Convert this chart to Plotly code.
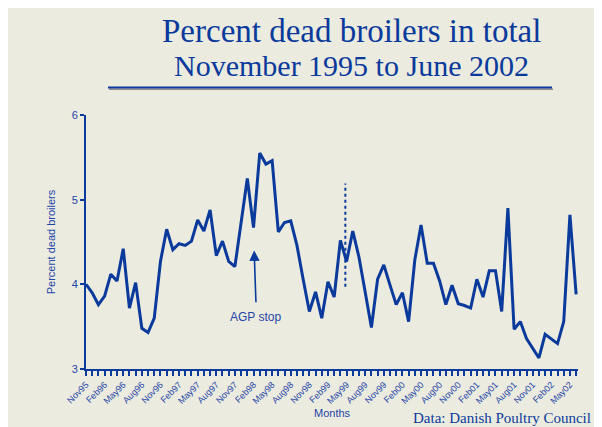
import plotly.graph_objects as go

months = ["Nov95","Dec95","Jan96","Feb96","Mar96","Apr96","May96","Jun96","Jul96","Aug96","Sep96","Oct96",
          "Nov96","Dec96","Jan97","Feb97","Mar97","Apr97","May97","Jun97","Jul97","Aug97","Sep97","Oct97",
          "Nov97","Dec97","Jan98","Feb98","Mar98","Apr98","May98","Jun98","Jul98","Aug98","Sep98","Oct98",
          "Nov98","Dec98","Jan99","Feb99","Mar99","Apr99","May99","Jun99","Jul99","Aug99","Sep99","Oct99",
          "Nov99","Dec99","Jan00","Feb00","Mar00","Apr00","May00","Jun00","Jul00","Aug00","Sep00","Oct00",
          "Nov00","Dec00","Jan01","Feb01","Mar01","Apr01","May01","Jun01","Jul01","Aug01","Sep01","Oct01",
          "Nov01","Dec01","Jan02","Feb02","Mar02","Apr02","May02","Jun02"]

pct_dead = [4.00, 3.90, 3.76, 3.86, 4.12, 4.04, 4.42, 3.72, 4.02, 3.48, 3.43, 3.60,
            4.27, 4.65, 4.41, 4.48, 4.46, 4.51, 4.76, 4.63, 4.88, 4.34, 4.51, 4.27,
            4.21, 4.74, 5.25, 4.67, 5.55, 5.42, 5.46, 4.62, 4.73, 4.75, 4.46, 4.06,
            3.68, 3.91, 3.60, 4.03, 3.85, 4.52, 4.27, 4.63, 4.32, 3.91, 3.49, 4.06,
            4.23, 3.99, 3.76, 3.90, 3.56, 4.29, 4.70, 4.25, 4.25, 4.04, 3.76, 3.99,
            3.77, 3.75, 3.72, 4.06, 3.85, 4.16, 4.16, 3.68, 4.90, 3.47, 3.56, 3.36,
            3.25, 3.13, 3.41, 3.35, 3.30, 3.56, 4.82, 3.88]

y_ticks = [3, 4, 5, 6]
label_every = 3

BLUE = "#0a3a9c"
TXT = "#1f45a8"
BG = "#ebebdf"

x_idx = list(range(len(months)))
tick_idx = x_idx[::label_every]
tick_txt = months[::label_every]

fig = go.Figure()
fig.add_trace(go.Scatter(x=x_idx, y=pct_dead, mode="lines",
                         line=dict(color=BLUE, width=3), hoverinfo="skip",
                         showlegend=False))

OFF = 8  # page body margin
W, H = 594, 419
L, R, T, B = 78, 24, 107, 58
pw, ph = W - L - R, H - T - B

def px_x(p):  # page pixel -> paper coord
    return (p - OFF - L) / pw

def px_y(p):
    return (H - B - (p - OFF)) / ph

shapes = [
    dict(type="line", xref="paper", yref="paper",
         x0=px_x(109), x1=px_x(553), y0=px_y(89.3), y1=px_y(89.3),
         line=dict(color="#8a8a8a", width=1.5)),
    dict(type="line", xref="paper", yref="paper",
         x0=px_x(108), x1=px_x(552), y0=px_y(87.5), y1=px_y(87.5),
         line=dict(color=BLUE, width=2)),
    dict(type="line", xref="x", yref="y", x0=41.8, x1=41.8, y0=3.97, y1=5.19,
         line=dict(color=BLUE, width=2, dash="dot")),
]

annotations = [
    dict(xref="paper", yref="paper", x=px_x(351), y=px_y(31), text="Percent dead broilers in total",
         showarrow=False, font=dict(family="Liberation Serif", size=33, color=BLUE),
         xanchor="center", yanchor="middle"),
    dict(xref="paper", yref="paper", x=px_x(351), y=px_y(66), text="November 1995 to June 2002",
         showarrow=False, font=dict(family="Liberation Serif", size=30, color=BLUE),
         xanchor="center", yanchor="middle"),
    dict(xref="x", yref="y", x=27.1, y=4.40, ax=27.4, ay=3.77, axref="x", ayref="y",
         text="", showarrow=True, arrowhead=2, arrowsize=1.3, arrowwidth=1.6, arrowcolor=BLUE),
    dict(xref="x", yref="y", x=27.3, y=3.62, text="AGP stop", showarrow=False,
         font=dict(family="Liberation Sans", size=12, color=TXT)),
    dict(xref="paper", yref="paper", x=px_x(332), y=px_y(413), text="Months", showarrow=False,
         font=dict(family="Liberation Sans", size=11, color=TXT), xanchor="center", yanchor="middle"),
    dict(xref="paper", yref="paper", x=px_x(593), y=px_y(418), text="Data: Danish Poultry Council",
         showarrow=False, font=dict(family="Liberation Serif", size=15, color=BLUE),
         xanchor="right", yanchor="middle"),
]

fig.update_layout(
    width=W, height=H,
    margin=dict(l=L, r=R, t=T, b=B, autoexpand=False),
    paper_bgcolor=BG, plot_bgcolor="rgba(0,0,0,0)",
    shapes=shapes, annotations=annotations,
    xaxis=dict(range=[0, 79.3], tickmode="array", tickvals=tick_idx, ticktext=tick_txt,
               tickangle=-45, tickfont=dict(family="Liberation Sans", size=9, color=TXT),
               ticks="outside", ticklen=5, tickwidth=1.5, tickcolor=BLUE, automargin=False,
               minor=dict(dtick=1, tick0=0, ticks="outside", ticklen=5, tickwidth=1.5,
                          tickcolor=BLUE, showgrid=False),
               showline=True, linecolor=BLUE, linewidth=2, showgrid=False, zeroline=False),
    yaxis=dict(range=[3, 6], tickvals=y_ticks, ticks="outside", ticklen=4, tickwidth=1.5,
               tickcolor=BLUE, tickfont=dict(family="Liberation Sans", size=11, color=TXT),
               showline=True, linecolor=BLUE, linewidth=2, showgrid=False, zeroline=False,
               automargin=False,
               title=dict(text="Percent dead broilers", standoff=14,
                          font=dict(family="Liberation Sans", size=11, color=TXT))),
)

fig.write_html("out.html")
